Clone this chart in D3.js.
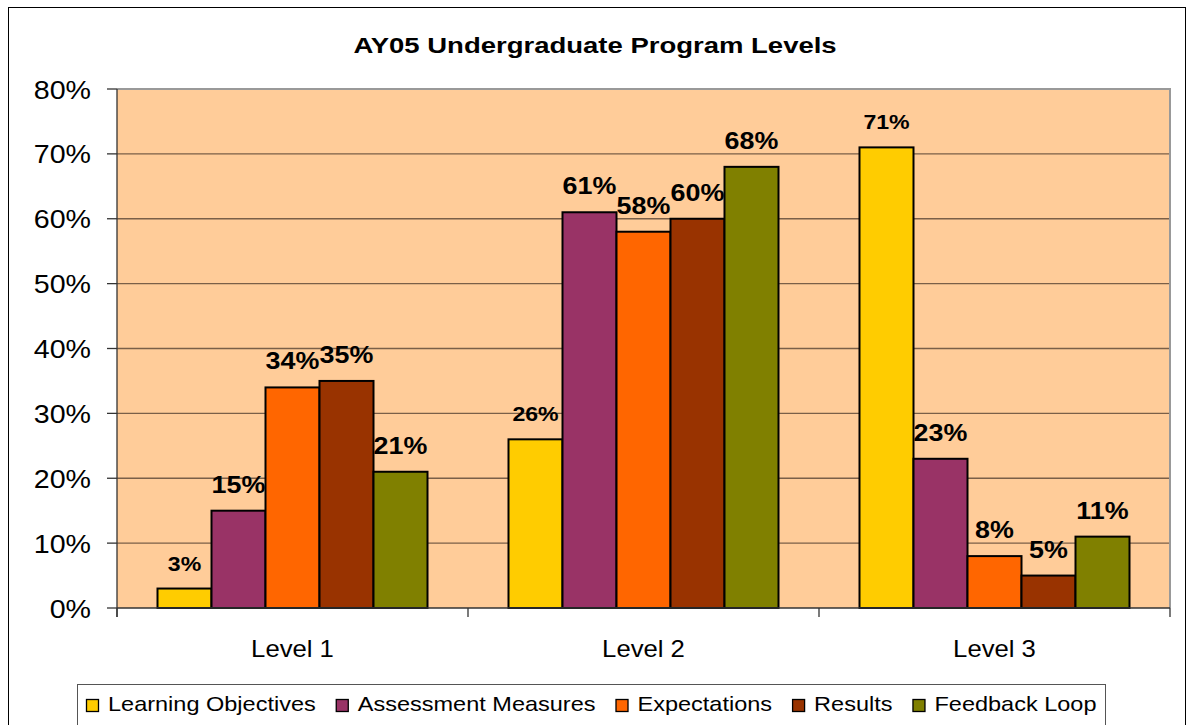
<!DOCTYPE html>
<html>
<head>
<meta charset="utf-8">
<script src="https://cdn.jsdelivr.net/npm/d3@7/dist/d3.min.js"></script>
<style>
  body { margin: 0; background: #fff; }
  svg { display: block; font-family: "Liberation Sans", Arial, sans-serif; }
</style>
</head>
<body>
<svg id="chart" width="1188" height="725"></svg>
<script>
// chart data
const levels = ["Level 1", "Level 2", "Level 3"];
const seriesNames = ["Learning Objectives", "Assessment Measures", "Expectations", "Results", "Feedback Loop"];
const seriesColors = ["#FFCC00", "#993366", "#FF6600", "#993300", "#808000"];
const learningObjectives = [3, 26, 71];
const assessmentMeasures = [15, 61, 23];
const expectations = [34, 58, 8];
const results = [35, 60, 5];
const feedbackLoop = [21, 68, 11];
const yTicks = [0, 10, 20, 30, 40, 50, 60, 70, 80];

const seriesValues = [learningObjectives, assessmentMeasures, expectations, results, feedbackLoop];

const svg = d3.select("#chart");
const plot = { left: 117, right: 1170, top: 89, bottom: 608 };

// text with a small horizontal stretch, like the original rendering
function stretchText(sel, x, y, sx) {
  return sel.attr("transform", "translate(" + x + "," + y + ") scale(" + sx + ",1)");
}

// outer chart border
svg.append("rect")
  .attr("x", 8.5).attr("y", 7.5)
  .attr("width", 1177).attr("height", 740)
  .attr("fill", "#fff").attr("stroke", "#000").attr("stroke-width", 1);

const y = d3.scaleLinear().domain([0, 80]).range([plot.bottom, plot.top]);
const x0 = d3.scaleBand().domain(levels).range([plot.left, plot.right]);
const x1 = d3.scaleBand().domain(seriesNames).range([0, x0.bandwidth()])
  .paddingInner(0).paddingOuter(0.75);

// plot background
svg.append("rect")
  .attr("x", plot.left).attr("y", plot.top)
  .attr("width", plot.right - plot.left).attr("height", plot.bottom - plot.top)
  .attr("fill", "#FFCC99");

// gridlines
svg.append("g")
  .selectAll("line")
  .data(yTicks.filter(d => d > 0 && d < 80))
  .join("line")
  .attr("x1", plot.left).attr("x2", plot.right)
  .attr("y1", d => y(d)).attr("y2", d => y(d))
  .attr("stroke", "#7a5f48").attr("stroke-width", 1.4);

// plot frame top/right
svg.append("path")
  .attr("d", "M" + plot.left + "," + plot.top + "H" + plot.right + "V" + plot.bottom)
  .attr("fill", "none").attr("stroke", "#999").attr("stroke-width", 2);

// bars
const groups = svg.append("g")
  .selectAll("g")
  .data(levels)
  .join("g")
  .attr("transform", d => "translate(" + x0(d) + ",0)");

groups.selectAll("rect")
  .data((lv, i) => seriesNames.map((s, j) => ({ s: s, j: j, v: seriesValues[j][i] })))
  .join("rect")
  .attr("x", d => x1(d.s))
  .attr("y", d => y(d.v))
  .attr("width", x1.bandwidth())
  .attr("height", d => y(0) - y(d.v))
  .attr("fill", d => seriesColors[d.j])
  .attr("stroke", "#000").attr("stroke-width", 2);

// data labels
groups.selectAll("text")
  .data((lv, i) => seriesNames.map((s, j) => ({ s: s, j: j, v: seriesValues[j][i] })))
  .join("text")
  .attr("text-anchor", "middle")
  .attr("font-weight", "bold")
  .attr("font-size", d => d.j === 0 ? 21 : 24)
  .attr("fill", "#000")
  .each(function (d) {
    stretchText(d3.select(this), x1(d.s) + x1.bandwidth() / 2, y(d.v) - 18, d.j === 0 ? 1.1 : 1.12);
  })
  .text(d => d.v + "%");

// y axis
const yAxis = svg.append("g");
yAxis.append("line")
  .attr("x1", plot.left).attr("x2", plot.left)
  .attr("y1", plot.top).attr("y2", plot.bottom + 9)
  .attr("stroke", "#333").attr("stroke-width", 1.3);
yAxis.selectAll("line.tick")
  .data(yTicks)
  .join("line")
  .attr("class", "tick")
  .attr("x1", plot.left - 10).attr("x2", plot.left)
  .attr("y1", d => y(d)).attr("y2", d => y(d))
  .attr("stroke", "#333").attr("stroke-width", 1.3);
yAxis.selectAll("text")
  .data(yTicks)
  .join("text")
  .attr("text-anchor", "end")
  .attr("font-size", 26)
  .attr("fill", "#000")
  .each(function (d) { stretchText(d3.select(this), 91, y(d) + 9.5, 1.1); })
  .text(d => d + "%");

// x axis
const xAxis = svg.append("g");
xAxis.append("line")
  .attr("x1", plot.left).attr("x2", plot.right)
  .attr("y1", plot.bottom).attr("y2", plot.bottom)
  .attr("stroke", "#333").attr("stroke-width", 1.3);
const bounds = levels.map(d => x0(d)).concat([plot.right]);
xAxis.selectAll("line.tick")
  .data(bounds)
  .join("line")
  .attr("class", "tick")
  .attr("x1", d => d).attr("x2", d => d)
  .attr("y1", plot.bottom).attr("y2", plot.bottom + 9)
  .attr("stroke", "#333").attr("stroke-width", 1.3);
xAxis.selectAll("text")
  .data(levels)
  .join("text")
  .attr("text-anchor", "middle")
  .attr("font-size", 24)
  .attr("fill", "#000")
  .each(function (d) { stretchText(d3.select(this), x0(d) + x0.bandwidth() / 2, 657, 1.07); })
  .text(d => d);

// title
stretchText(svg.append("text"), 595, 53, 1.25)
  .attr("text-anchor", "middle")
  .attr("font-weight", "bold")
  .attr("font-size", 22)
  .attr("fill", "#000")
  .text("AY05 Undergraduate Program Levels");

// legend
const legend = svg.append("g");
legend.append("rect")
  .attr("x", 77.5).attr("y", 684.5)
  .attr("width", 1028).attr("height", 60)
  .attr("fill", "#fff").attr("stroke", "#555").attr("stroke-width", 1);

let lx = 86;
seriesNames.forEach((name, j) => {
  legend.append("rect")
    .attr("x", lx + 0.5).attr("y", 699.5)
    .attr("width", 12).attr("height", 12)
    .attr("fill", seriesColors[j]).attr("stroke", "#000").attr("stroke-width", 1.3);
  const t = stretchText(legend.append("text"), lx + 22, 711, 1.12)
    .attr("font-size", 21)
    .attr("fill", "#000")
    .text(name);
  const w = t.node().getComputedTextLength() * 1.12;
  lx += 22 + w + 20;
});
</script>
</body>
</html>
